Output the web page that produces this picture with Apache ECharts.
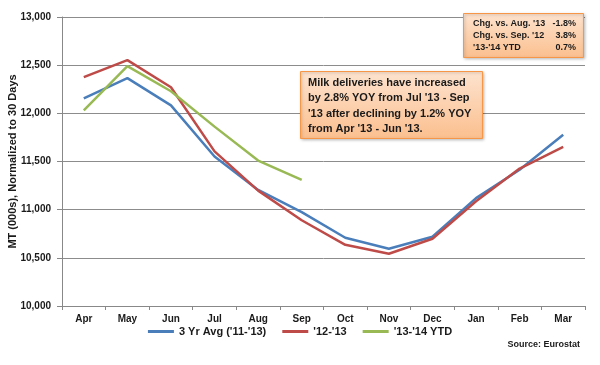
<!DOCTYPE html>
<html><head><meta charset="utf-8">
<script src="https://cdn.jsdelivr.net/npm/echarts@6/dist/echarts.min.js"></script>
<style>html,body{margin:0;padding:0;background:#fff}#c{width:600px;height:365px}</style>
</head><body><div id="c"></div>
<script>
const categories = ['Apr','May','Jun','Jul','Aug','Sep','Oct','Nov','Dec','Jan','Feb','Mar'];
const avg3yr = [12156, 12365, 12083, 11552, 11205, 10975, 10708, 10594, 10719, 11120, 11415, 11778];
const y1213 = [12375, 12552, 12271, 11605, 11198, 10890, 10635, 10542, 10698, 11088, 11427, 11652];
const y1314 = [12031, 12490, 12229, 11862, 11510, 11310];
const seriesNames = ["3 Yr Avg ('11-'13)", "'12-'13", "'13-'14 YTD"];
const statsLabels = ["Chg. vs. Aug. '13", "Chg. vs. Sep. '12", "'13-'14 YTD"];
const statsValues = ["-1.8%", "3.8%", "0.7%"];
const noteLines = ["Milk deliveries have increased", "by 2.8% YOY from Jul '13 - Sep", "'13 after declining by 1.2% YOY", "from Apr '13 - Jun '13."];
const yTicks = {min: 10000, max: 13000, interval: 500};

const F = 'Liberation Sans, Arial, sans-serif';
const chart = echarts.init(document.getElementById('c'), null, {renderer: 'canvas'});
const colors = ['#4a7ebb', '#be4b48', '#98b954'];
const graphics = [];
graphics.push({type:'rect', shape:{x:463.5,y:13.5,width:120,height:44}, style:{fill:new echarts.graphic.LinearGradient(0,0,0,1,[{offset:0,color:'#fde3cf'},{offset:1,color:'#fbbf8e'}]), stroke:'#f79646', lineWidth:1, shadowBlur:3, shadowColor:'rgba(0,0,0,0.25)', shadowOffsetX:1, shadowOffsetY:1}, z:10});
statsLabels.forEach((t,i)=>{
  graphics.push({type:'text', x:473, y:24+i*12, style:{text:t, font:'bold 9px '+F, fill:'#1a1a1a', textVerticalAlign:'middle'}, z:11});
  graphics.push({type:'text', x:576, y:24+i*12, style:{text:statsValues[i], font:'bold 9px '+F, fill:'#1a1a1a', textAlign:'right', textVerticalAlign:'middle'}, z:11});
});
graphics.push({type:'rect', shape:{x:300.5,y:71.5,width:182,height:67}, style:{fill:new echarts.graphic.LinearGradient(0,0,0,1,[{offset:0,color:'#fde3cf'},{offset:1,color:'#fbbf8e'}]), stroke:'#f79646', lineWidth:1, shadowBlur:3, shadowColor:'rgba(0,0,0,0.25)', shadowOffsetX:1, shadowOffsetY:1}, z:10});
noteLines.forEach((t,i)=>{
  graphics.push({type:'text', x:308, y:83+i*15.3, style:{text:t, font:'bold 11px '+F, fill:'#1a1a1a', textVerticalAlign:'middle'}, z:11});
});
graphics.push({type:'text', x:580, y:345, style:{text:'Source: Eurostat', font:'bold 9px '+F, fill:'#1a1a1a', textAlign:'right', textVerticalAlign:'middle'}});

chart.setOption({
  animation:false,
  backgroundColor:'#fff',
  grid:{left:62, right:15, top:17, bottom:59, containLabel:false, outerBoundsMode:'none'},
  legend:{bottom:23, left:'center', itemWidth:26, itemHeight:3, itemGap:16, icon:'rect',
    textStyle:{fontFamily:F, fontSize:11, fontWeight:'bold', color:'#1a1a1a'},
    data:seriesNames},
  xAxis:{type:'category', data:categories, boundaryGap:true,
    axisLine:{lineStyle:{color:'#888', width:1}},
    axisTick:{show:true, length:4, lineStyle:{color:'#888'}},
    axisLabel:{fontFamily:F, fontSize:10, fontWeight:'bold', color:'#1a1a1a', margin:8, interval:0}},
  yAxis:{type:'value', min:yTicks.min, max:yTicks.max, interval:yTicks.interval,
    name:'MT (000s), Normalized to 30 Days', nameLocation:'middle', nameGap:44, nameMoveOverlap:false,
    nameTextStyle:{fontFamily:F, fontSize:11, fontWeight:'bold', color:'#1a1a1a'},
    axisLine:{show:true, lineStyle:{color:'#888'}},
    axisTick:{show:true, length:5, lineStyle:{color:'#888'}},
    splitLine:{lineStyle:{color:'#8c8c8c', width:1}},
    axisLabel:{fontFamily:F, fontSize:10, fontWeight:'bold', color:'#1a1a1a', margin:11,
      formatter:v=>v.toLocaleString('en-US')}},
  series:[
    {name:seriesNames[0], type:'line', data:avg3yr, symbol:'none', lineStyle:{width:2.5, color:colors[0]}, itemStyle:{color:colors[0]}, z:2},
    {name:seriesNames[1], type:'line', data:y1213, symbol:'none', lineStyle:{width:2.5, color:colors[1]}, itemStyle:{color:colors[1]}, z:3},
    {name:seriesNames[2], type:'line', data:y1314, symbol:'none', lineStyle:{width:2.5, color:colors[2]}, itemStyle:{color:colors[2]}, z:4}
  ],
  graphic:graphics
});
</script></body></html>
